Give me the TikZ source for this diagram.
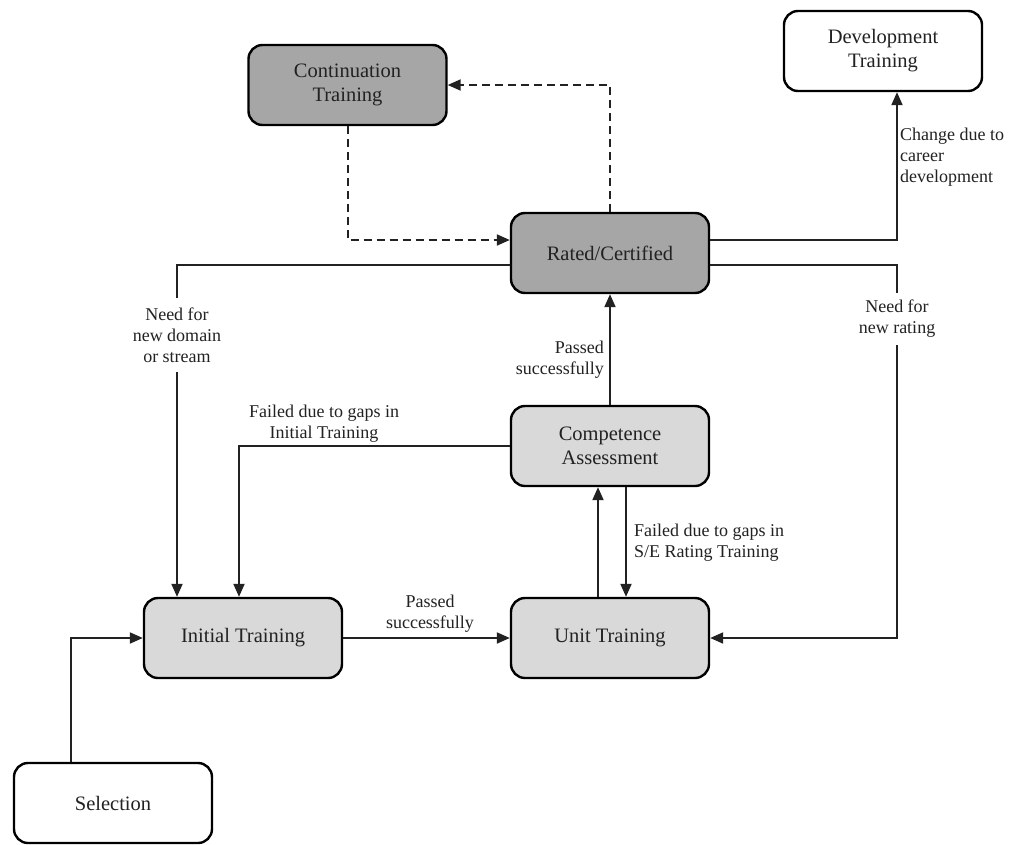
\documentclass[tikz,border=0pt]{standalone}
\usepackage{fontspec}
\setmainfont{Liberation Serif}
\usetikzlibrary{arrows.meta}
\definecolor{darkbox}{RGB}{166,166,166}
\definecolor{lightbox}{RGB}{217,217,217}
\definecolor{ink}{RGB}{34,34,34}
\tikzset{
  box/.style={draw=black, line width=2.4pt, rounded corners=14pt, minimum width=198pt, minimum height=80pt, align=center, text=ink, font=\fontsize{20.5}{24}\selectfont},
  darkfill/.style={fill=darkbox},
  lightfill/.style={fill=lightbox},
  whitefill/.style={fill=white},
  conn/.style={draw=ink, line width=2pt},
  arr/.style={conn, -{Triangle[length=13pt,width=11pt]}},
  darr/.style={arr, dash pattern=on 8pt off 5pt},
  lbl/.style={text=ink, font=\fontsize{18}{21}\selectfont, inner sep=0pt},
}
\begin{document}
\begin{tikzpicture}[x=1pt, y=-1pt]
\useasboundingbox[fill=white] (0,0) rectangle (1010,844);
% nodes
\node[box, darkfill] (cont) at (347.5,85) {Continuation\\Training};
\node[box, whitefill] (dev) at (883,51) {Development\\Training};
\node[box, darkfill] (rated) at (610,253) {Rated/Certified};
\node[box, lightfill] (comp) at (610,446) {Competence\\Assessment};
\node[box, lightfill] (init) at (243,638) {Initial Training};
\node[box, lightfill] (unit) at (610,638) {Unit Training};
\node[box, whitefill] (sel) at (113,803) {Selection};
% interrupting labels
\node[lbl, align=center, inner sep=0pt, minimum height=74pt] (nd) at (177,335) {Need for\\new domain\\or stream};
\node[lbl, align=center, inner sep=0pt, minimum height=52pt] (nr) at (897,319) {Need for\\new rating};
% connectors
\draw[darr] (cont.south) |- ([yshift=13pt]rated.west);
\draw[darr] (rated.north) |- (cont.east);
\draw[arr] ([yshift=13pt]rated.east) -| ([xshift=14pt]dev.south);
\draw[conn] ([yshift=-12pt]rated.east) -| (nr.north);
\draw[arr] (nr.south) |- (unit.east);
\draw[conn] ([yshift=-12pt]rated.west) -| (nd.north);
\draw[arr] (nd.south) -- (nd.south |- init.north);
\draw[arr] (comp.west) -| ([xshift=-4pt]init.north);
\draw[arr] ([xshift=-42pt]sel.north) |- (init.west);
\draw[arr] (init.east) -- (unit.west);
\draw[arr] ([xshift=-12pt]unit.north) -- ([xshift=-12pt]comp.south);
\draw[arr] ([xshift=16pt]comp.south) -- ([xshift=16pt]unit.north);
\draw[arr] (comp.north) -- (rated.south);
% labels
\node[lbl, align=left, anchor=west] (lchg) at (900,157) {Change due to\\career\\development};
\node[lbl, align=right, anchor=east] (lps1) at (604,360) {Passed\\successfully};
\node[lbl, align=center] (lfi) at (324,424) {Failed due to gaps in\\Initial Training};
\node[lbl, align=left, anchor=west] (lfs) at (634,543) {Failed due to gaps in\\S/E Rating Training};
\node[lbl, align=center] (lps2) at (430,614) {Passed\\successfully};
\end{tikzpicture}
\end{document}
